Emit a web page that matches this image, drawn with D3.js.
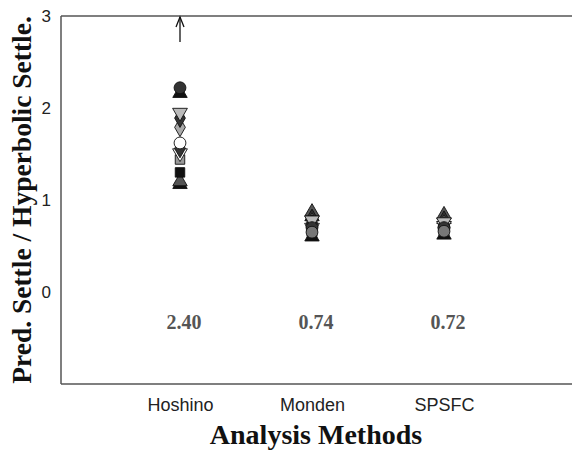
<!DOCTYPE html>
<html>
<head>
<meta charset="utf-8">
<script src="https://cdn.jsdelivr.net/npm/d3@7"></script>
<style>
  body { margin: 0; background: #fff; }
  svg { display: block; }
</style>
</head>
<body>
<div class="chart"></div>
<script>
var methods = ['Hoshino', 'Monden', 'SPSFC'];
var meanLabels = ['2.40', '0.74', '0.72'];
var yTicks = [0, 1, 2, 3];

// one row per case: values for Hoshino, Monden, SPSFC
var case1 = [2.22, 0.70, 0.70];
var case2 = [2.16, 0.82, 0.79];
var case3 = [1.95, 0.78, 0.76];
var case4 = [1.89, 0.74, 0.72];
var case5 = [1.79, 0.76, 0.74];
var case6 = [1.62, 0.72, 0.70];
var case7 = [1.56, 0.80, 0.78];
var case8 = [1.51, 0.70, 0.72];
var case9 = [1.44, 0.66, 0.66];
var case10 = [1.30, 0.62, 0.64];
var case11 = [1.20, 0.87, 0.84];
var case12 = [1.17, 0.60, 0.62];
var case13 = [11.4, 0.65, 0.66];

var width = 572, height = 452;
var margin = {top: 16, right: 0, bottom: 68, left: 61};

var svg = d3.select('.chart')
			.append('svg')
			.attr('width', width)
			.attr('height', height);

var x = d3.scalePoint()
		  .domain(methods)
		  .range([180, 444]);

var y = d3.scaleLinear()
		  .domain([-1, 3])
		  .range([height - margin.bottom, margin.top]);

// frame: left, top and bottom lines only
var frame = svg.append('g')
			   .attr('stroke', '#555')
			   .attr('stroke-width', 1.5)
			   .attr('fill', 'none');
frame.append('line').attr('x1', margin.left).attr('x2', margin.left).attr('y1', y(3)).attr('y2', y(-1));
frame.append('line').attr('x1', margin.left).attr('x2', width).attr('y1', y(3)).attr('y2', y(3));
frame.append('line').attr('x1', margin.left).attr('x2', width).attr('y1', y(-1)).attr('y2', y(-1));

// y axis labels, no tick marks
var yAxis = d3.axisLeft(y).tickValues(yTicks).tickFormat(d3.format('d')).tickSize(0).tickPadding(10);
var gy = svg.append('g')
			.attr('transform', 'translate(' + margin.left + ',0)')
			.call(yAxis);
gy.select('.domain').remove();
gy.selectAll('text')
  .attr('font-family', 'Liberation Sans, Arial, sans-serif')
  .attr('font-size', 17)
  .attr('fill', '#222');

// x axis labels
var xAxis = d3.axisBottom(x).tickSize(0).tickPadding(14);
var gx = svg.append('g')
			.attr('transform', 'translate(0,' + y(-1) + ')')
			.call(xAxis);
gx.select('.domain').remove();
gx.selectAll('text')
  .attr('font-family', 'Liberation Sans, Arial, sans-serif')
  .attr('font-size', 18)
  .attr('fill', '#222');

// titles
svg.append('text')
   .attr('x', 316)
   .attr('y', 444)
   .attr('text-anchor', 'middle')
   .attr('font-family', 'Liberation Serif, Times New Roman, serif')
   .attr('font-weight', 'bold')
   .attr('font-size', 28)
   .attr('fill', '#111')
   .text('Analysis Methods');

svg.append('text')
   .attr('transform', 'translate(31,' + (margin.top + (height - margin.bottom - margin.top) / 2) + ') rotate(-90)')
   .attr('text-anchor', 'middle')
   .attr('font-family', 'Liberation Serif, Times New Roman, serif')
   .attr('font-weight', 'bold')
   .attr('font-size', 27.5)
   .attr('fill', '#111')
   .text('Pred. Settle / Hyperbolic Settle.');

// mean values
svg.append('g')
   .selectAll('text')
   .data(meanLabels)
   .join('text')
   .attr('x', function(d, i) { return x(methods[i]) + 4; })
   .attr('y', 329)
   .attr('text-anchor', 'middle')
   .attr('font-family', 'Liberation Serif, Times New Roman, serif')
   .attr('font-weight', 'bold')
   .attr('font-size', 20)
   .attr('fill', '#555')
   .text(function(d) { return d; });

// markers
var series = [
	{v: case12, shape: d3.symbolTriangle, fill: '#111'},
	{v: case2, shape: d3.symbolTriangle, fill: '#111'},
	{v: case11, shape: d3.symbolTriangle, fill: '#555'},
	{v: case10, shape: d3.symbolSquare, fill: '#111'},
	{v: case9, shape: d3.symbolSquare, fill: '#999'},
	{v: case8, shape: 'down', fill: '#fff'},
	{v: case7, shape: d3.symbolDiamond, fill: '#333'},
	{v: case6, shape: d3.symbolCircle, fill: '#fff'},
	{v: case5, shape: d3.symbolDiamond, fill: '#aaa'},
	{v: case4, shape: d3.symbolDiamond, fill: '#333'},
	{v: case3, shape: 'down', fill: '#bbb'},
	{v: case1, shape: d3.symbolCircle, fill: '#333'},
	{v: case13, shape: d3.symbolCircle, fill: '#777'}
];

var pts = [];
series.forEach(function(s) {
	s.v.forEach(function(val, i) {
		pts.push({method: methods[i], value: val, shape: s.shape, fill: s.fill});
	});
});

function symPath(shape) {
	if (shape === 'down') return d3.symbol(d3.symbolTriangle, 95)();
	if (shape === d3.symbolCircle) return d3.symbol(shape, 110)();
	if (shape === d3.symbolDiamond) return d3.symbol(shape, 100)();
	return d3.symbol(shape, 90)();
}

svg.append('g')
   .selectAll('path')
   .data(pts.filter(function(d) { return d.value <= 3; }))
   .join('path')
   .attr('transform', function(d) {
	   return 'translate(' + x(d.method) + ',' + y(d.value) + ')' + (d.shape === 'down' ? ' rotate(180)' : '');
   })
   .attr('d', function(d) { return symPath(d.shape); })
   .attr('fill', function(d) { return d.fill; })
   .attr('stroke', '#111')
   .attr('stroke-width', 0.9);

// off-scale values shown as arrows at the top
var over = pts.filter(function(d) { return d.value > 3; });
var arrows = svg.append('g')
				.attr('stroke', '#111')
				.attr('stroke-width', 1.3)
				.attr('fill', 'none');
arrows.selectAll('line')
	  .data(over)
	  .join('line')
	  .attr('x1', function(d) { return x(d.method); })
	  .attr('x2', function(d) { return x(d.method); })
	  .attr('y1', y(3) + 26)
	  .attr('y2', y(3) + 1);
arrows.selectAll('path')
	  .data(over)
	  .join('path')
	  .attr('d', function(d) {
		  var cx = x(d.method), top = y(3) + 1;
		  return 'M' + (cx - 4) + ',' + (top + 10) + 'L' + cx + ',' + top + 'L' + (cx + 4) + ',' + (top + 10);
	  });
</script>
</body>
</html>
